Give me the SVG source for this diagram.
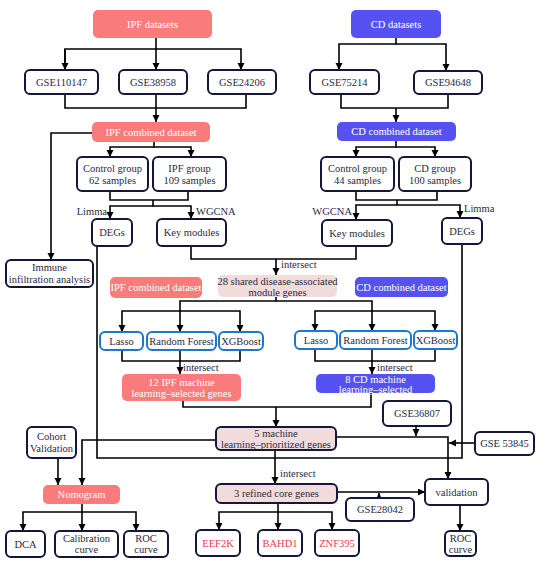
<svg xmlns="http://www.w3.org/2000/svg" width="550" height="566" viewBox="0 0 550 566">
<style>
rect{rx:5px;ry:5px}
.b{fill:#fff;stroke:#16163a;stroke-width:2}
.p{fill:#f97b7b}
.u{fill:#5652f2}
.lp{fill:#f1dcdb;stroke:#16163a;stroke-width:2}
.lp0{fill:#f1dcdb}
.a{fill:#fff;stroke:#1f77c9;stroke-width:2}
text{font-family:"Liberation Serif","Times New Roman",serif;font-size:10.5px;fill:#2a2a44;text-anchor:middle}
text.w{fill:#fff}
text.r{fill:#ee3a4a}
text.s{text-anchor:start}
text.e{text-anchor:end}
.c path{fill:none;stroke:#000;stroke-width:1.6}
.c path.ar{marker-end:url(#ah)}
</style>
<defs>
<marker id="ah" markerUnits="userSpaceOnUse" markerWidth="8" markerHeight="8" refX="7" refY="3.5" orient="auto"><path d="M0,0 L7,3.5 L0,7 z" fill="#000"/></marker>
</defs>
<g class="c" id="connectors">
<path d="M65,70 V49 H241 V70" class="ar"/>
<path d="M65,49 V70" class="ar"/>
<path d="M156,38 V70" class="ar"/>
<path d="M65,94 V108 H246 V94"/>
<path d="M156,94 V122" class="ar"/>
<path d="M396,38 V44 H339 V70" class="ar"/>
<path d="M396,44 H446 V71" class="ar"/>
<path d="M341,94 V108 H448 V94"/>
<path d="M396,108 V122" class="ar"/>
<path d="M154,142 V147 H191 V157" class="ar"/>
<path d="M154,147 H110 V157" class="ar"/>
<path d="M92,133 H51 V260" class="ar"/>
<path d="M110,191 V200 H188 V191"/>
<path d="M153,200 V206 H191 V219" class="ar"/>
<path d="M153,206 H110 V219" class="ar"/>
<path d="M396,141 V147 H435 V157" class="ar"/>
<path d="M396,147 H356 V157" class="ar"/>
<path d="M356,191 V200 H437 V191"/>
<path d="M397,200 V205 H460 V218" class="ar"/>
<path d="M397,205 H356 V220" class="ar"/>
<path d="M191,246 V259 H356 V246"/>
<path d="M276,259 V275" class="ar"/>
<path d="M276,297 V301 H372 V331" class="ar"/>
<path d="M276,301 H180 V332" class="ar"/>
<path d="M180,311 H122 V332" class="ar"/>
<path d="M180,311 H240 V332" class="ar"/>
<path d="M372,311 H315 V331" class="ar"/>
<path d="M372,311 H435 V331" class="ar"/>
<path d="M122,350 V361 H240 V350"/>
<path d="M180,350 V374" class="ar"/>
<path d="M315,349 V361 H435 V349"/>
<path d="M372,349 V374" class="ar"/>
<path d="M183,401 V407 H371 V393"/>
<path d="M276,407 V427" class="ar"/>
<path d="M97,246 V458 H462 V244"/>
<path d="M416,426 V436" class="ar"/>
<path d="M336,437 H448 V479" class="ar"/>
<path d="M475,443 H449" class="ar"/>
<path d="M216,440 H82 V485" class="ar"/>
<path d="M58,458 V485" class="ar"/>
<path d="M275,450 V484" class="ar"/>
<path d="M82,504 V512 H136 V531" class="ar"/>
<path d="M82,512 V531" class="ar"/>
<path d="M82,512 H23 V531" class="ar"/>
<path d="M278,503 V530" class="ar"/>
<path d="M278,512 H219 V530" class="ar"/>
<path d="M278,512 H332 V530" class="ar"/>
<path d="M337,492 H425" class="ar"/>
<path d="M379,498 V493" class="ar"/>
<path d="M460,505 V531" class="ar"/>
</g>
<g id="labels">
<text x="107" y="215" class="e">Limma</text>
<text x="196" y="215" class="s">WGCNA</text>
<text x="352" y="215" class="e">WGCNA</text>
<text x="464" y="212" class="s">Limma</text>
<text x="281" y="268" class="s">intersect</text>
<text x="183" y="371" class="s">intersect</text>
<text x="377" y="371" class="s">intersect</text>
<text x="280" y="477" class="s">intersect</text>
</g>
<g id="ipf-datasets"><rect class="p" x="93" y="10" width="119" height="28"/><text class="w" x="152.5" y="27.5">IPF datasets</text></g>
<g id="cd-datasets"><rect class="u" x="351" y="10" width="90" height="28"/><text class="w" x="396" y="27.5">CD datasets</text></g>
<g id="gse110147"><rect class="b" x="25" y="70" width="73" height="24"/><text x="61.5" y="85.5">GSE110147</text></g>
<g id="gse38958"><rect class="b" x="119" y="70" width="68" height="24"/><text x="153" y="85.5">GSE38958</text></g>
<g id="gse24206"><rect class="b" x="208" y="70" width="68" height="24"/><text x="242" y="85.5">GSE24206</text></g>
<g id="gse75214"><rect class="b" x="310" y="70" width="69" height="24"/><text x="344.5" y="85.5">GSE75214</text></g>
<g id="gse94648"><rect class="b" x="414" y="71" width="68" height="23"/><text x="448" y="86">GSE94648</text></g>
<g id="ipf-combined"><rect class="p" x="92" y="122" width="118" height="20"/><text class="w" x="151" y="135.5">IPF combined dataset</text></g>
<g id="cd-combined"><rect class="u" x="337" y="122" width="119" height="19"/><text class="w" x="396.5" y="135">CD  combined dataset</text></g>
<g id="control-ipf"><rect class="b" x="77" y="157" width="71" height="34"/><text x="112.5" y="172">Control group</text><text x="112.5" y="184">62 samples</text></g>
<g id="ipf-group"><rect class="b" x="153" y="157" width="73" height="34"/><text x="189.5" y="172">IPF group</text><text x="189.5" y="184">109 samples</text></g>
<g id="control-cd"><rect class="b" x="321" y="157" width="73" height="34"/><text x="357.5" y="172">Control group</text><text x="357.5" y="184">44 samples</text></g>
<g id="cd-group"><rect class="b" x="399" y="157" width="72" height="34"/><text x="435" y="172">CD group</text><text x="435" y="184">100 samples</text></g>
<g id="degs-ipf"><rect class="b" x="92" y="219" width="40" height="27"/><text x="112" y="236">DEGs</text></g>
<g id="key-ipf"><rect class="b" x="157" y="219" width="69" height="27"/><text x="191.5" y="236">Key modules</text></g>
<g id="key-cd"><rect class="b" x="322" y="220" width="70" height="26"/><text x="357" y="236.5">Key modules</text></g>
<g id="degs-cd"><rect class="b" x="442" y="218" width="40" height="26"/><text x="462" y="234.5">DEGs</text></g>
<g id="immune"><rect class="b" x="6" y="260" width="87" height="27"/><text x="49.5" y="271">Immune</text><text x="49.5" y="282.5">infiltration analysis</text></g>
<g id="ipf-combined-2"><rect class="p" x="110" y="277" width="92" height="21"/><text class="w" x="156" y="291">IPF combined dataset</text></g>
<g id="shared-28"><rect class="lp0" x="218" y="275" width="119" height="22"/><text x="277.5" y="285">28 shared disease-associated</text><text x="277.5" y="295.5">module genes</text></g>
<g id="cd-combined-2"><rect class="u" x="355" y="277" width="93" height="20"/><text class="w" x="401.5" y="290.5">CD  combined dataset</text></g>
<g id="lasso-ipf"><rect class="a" x="100" y="332" width="43" height="18"/><text x="121.5" y="344.5">Lasso</text></g>
<g id="rf-ipf"><rect class="a" x="147" y="332" width="69" height="18"/><text x="181.5" y="344.5">Random Forest</text></g>
<g id="xgb-ipf"><rect class="a" x="219" y="332" width="44" height="18"/><text x="241" y="344.5">XGBoost</text></g>
<g id="lasso-cd"><rect class="a" x="295" y="331" width="42" height="18"/><text x="316" y="343.5">Lasso</text></g>
<g id="rf-cd"><rect class="a" x="340" y="331" width="71" height="18"/><text x="375.5" y="343.5">Random Forest</text></g>
<g id="xgb-cd"><rect class="a" x="414" y="331" width="43" height="18"/><text x="435.5" y="343.5">XGBoost</text></g>
<g id="ipf-12"><rect class="p" x="122" y="374" width="119" height="27"/><text class="w" x="181.5" y="385.5">12 IPF machine</text><text class="w" x="181.5" y="397">learning–selected genes</text></g>
<g id="cd-8"><rect class="u" x="316" y="374" width="119" height="19"/><text class="w" x="375.5" y="382.5">8 CD machine</text><text class="w" x="375.5" y="392.5">learning–selected</text></g>
<g id="gse36807"><rect class="b" x="383" y="401" width="68" height="25"/><text x="417" y="417">GSE36807</text></g>
<g id="machine-5"><rect class="lp" x="216" y="427" width="120" height="23"/><text x="276" y="436.5">5 machine</text><text x="276" y="447.5">learning–prioritized genes</text></g>
<g id="cohort"><rect class="b" x="27" y="427" width="49" height="31"/><text x="51.5" y="439.5">Cohort</text><text x="51.5" y="451.5">Validation</text></g>
<g id="gse53845"><rect class="b" x="475" y="432" width="59" height="23"/><text x="504.5" y="447">GSE 53845</text></g>
<g id="nomogram"><rect class="p" x="43" y="485" width="77" height="19"/><text class="w" x="81.5" y="498">Nomogram</text></g>
<g id="refined-3"><rect class="lp" x="216" y="484" width="121" height="19"/><text x="276.5" y="497">3 refined core genes</text></g>
<g id="gse28042"><rect class="b" x="346" y="498" width="68" height="23"/><text x="380" y="513">GSE28042</text></g>
<g id="validation"><rect class="b" x="425" y="479" width="63" height="26"/><text x="456.5" y="495.5">validation</text></g>
<g id="dca"><rect class="b" x="6" y="531" width="39" height="26"/><text x="25.5" y="547.5">DCA</text></g>
<g id="calibration"><rect class="b" x="55" y="531" width="63" height="26"/><text x="86.5" y="541.5">Calibration</text><text x="86.5" y="553">curve</text></g>
<g id="roc-1"><rect class="b" x="124" y="531" width="44" height="26"/><text x="146" y="541.5">ROC</text><text x="146" y="553">curve</text></g>
<g id="eef2k"><rect class="b" x="196" y="530" width="44" height="26"/><text class="r" x="218" y="546.5">EEF2K</text></g>
<g id="bahd1"><rect class="b" x="258" y="530" width="44" height="26"/><text class="r" x="280" y="546.5">BAHD1</text></g>
<g id="znf395"><rect class="b" x="315" y="530" width="44" height="26"/><text class="r" x="337" y="546.5">ZNF395</text></g>
<g id="roc-2"><rect class="b" x="445" y="531" width="31" height="25"/><text x="460.5" y="541.5">ROC</text><text x="460.5" y="553">curve</text></g>
</svg>
